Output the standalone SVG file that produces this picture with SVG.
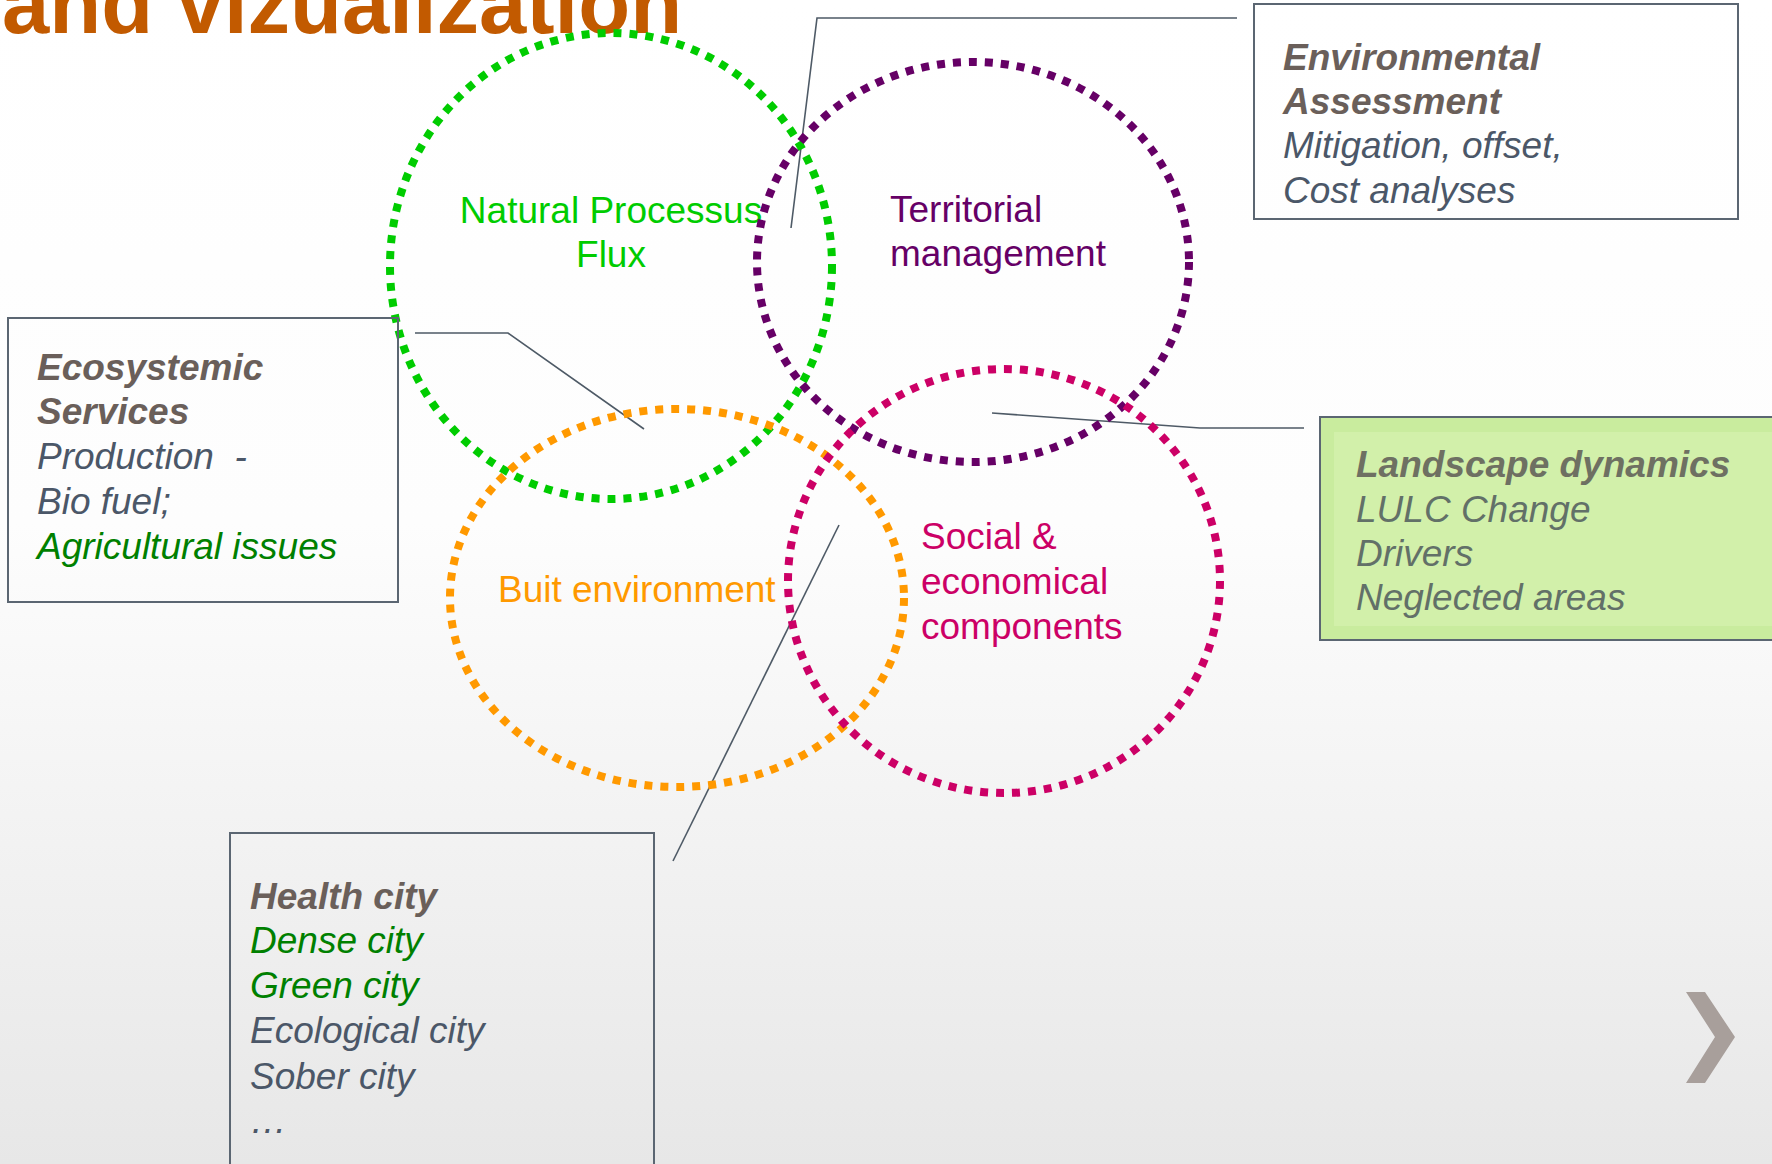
<svg xmlns="http://www.w3.org/2000/svg" width="1772" height="1164" viewBox="0 0 1772 1164">
<defs>
<linearGradient id="bg" x1="0" y1="0" x2="0" y2="1">
<stop offset="0" stop-color="#FFFFFF"/>
<stop offset="0.45" stop-color="#FDFDFD"/>
<stop offset="1" stop-color="#E7E7E7"/>
</linearGradient>
<style>
.ring{fill:none;stroke-width:8;stroke-dasharray:8 8}
.box{fill:none;stroke:#5B6672;stroke-width:2}
.conn{fill:none;stroke:#4E5A66;stroke-width:1.6}
text{font-family:"Liberation Sans",Arial,sans-serif;font-size:37px}
.title{font-size:85px;font-weight:bold;fill:#C25A00}
.h{font-weight:bold;font-style:italic;fill:#6A5F5A}
.it{font-style:italic;fill:#4B5768}
.gr{font-style:italic;fill:#008000}
</style>
</defs>
<rect x="0" y="0" width="1772" height="1164" fill="url(#bg)"/>
<text id="title" class="title" x="2" y="33">and vizualization</text>

<g id="connectors">
<polyline class="conn" points="1237,18 817,18 791,228"/>
<polyline class="conn" points="415,333 508,333 644,429"/>
<polyline class="conn" points="992,413 1200,428 1304,428"/>
<line class="conn" x1="839" y1="525" x2="673" y2="861"/>
</g>

<g id="natural">
<ellipse class="ring" cx="611" cy="266" rx="221" ry="233" stroke="#00CC00"/>
<text x="611" y="223" text-anchor="middle" fill="#00CC00">Natural Processus</text>
<text x="611" y="267" text-anchor="middle" fill="#00CC00">Flux</text>
</g>
<g id="territorial">
<ellipse class="ring" cx="973" cy="262" rx="216" ry="200" stroke="#660066"/>
<text x="890" y="222" fill="#660066">Territorial</text>
<text x="890" y="266" fill="#660066">management</text>
</g>
<g id="built">
<ellipse class="ring" cx="677" cy="598" rx="227" ry="189" stroke="#FF9900"/>
<text x="498" y="602" fill="#FF9900">Buit environment</text>
</g>
<g id="social">
<ellipse class="ring" cx="1004" cy="581" rx="216" ry="212" stroke="#CC0066"/>
<text x="921" y="549" fill="#CC0066">Social &amp;</text>
<text x="921" y="594" fill="#CC0066">economical</text>
<text x="921" y="639" fill="#CC0066">components</text>
</g>

<g id="env-assessment">
<rect class="box" x="1254" y="4" width="484" height="215"/>
<text class="h" x="1283" y="70">Environmental</text>
<text class="h" x="1283" y="114">Assessment</text>
<text class="it" x="1283" y="158">Mitigation, offset,</text>
<text class="it" x="1283" y="203">Cost analyses</text>
</g>

<g id="ecosystemic">
<rect class="box" x="8" y="318" width="390" height="284"/>
<text class="h" x="37" y="380">Ecosystemic</text>
<text class="h" x="37" y="424">Services</text>
<text class="it" x="37" y="469" xml:space="preserve">Production  -</text>
<text class="it" x="37" y="514">Bio fuel;</text>
<text class="gr" x="37" y="559">Agricultural issues</text>
</g>

<g id="landscape">
<rect x="1320" y="417" width="460" height="223" fill="#C9EC9E" stroke="#5B6672" stroke-width="2"/>
<rect x="1334" y="432" width="440" height="194" fill="#D2F0AA"/>
<text x="1356" y="477" font-weight="bold" font-style="italic" fill="#6E7062">Landscape dynamics</text>
<text x="1356" y="522" font-style="italic" fill="#627068">LULC Change</text>
<text x="1356" y="566" font-style="italic" fill="#627068">Drivers</text>
<text x="1356" y="610" font-style="italic" fill="#627068">Neglected areas</text>
</g>

<g id="health">
<rect class="box" x="230" y="833" width="424" height="340"/>
<text class="h" x="250" y="909">Health city</text>
<text class="gr" x="250" y="953">Dense city</text>
<text class="gr" x="250" y="998">Green city</text>
<text class="it" x="250" y="1043">Ecological city</text>
<text class="it" x="250" y="1089">Sober city</text>
<text class="it" x="250" y="1133">…</text>
</g>

<g id="next">
<polygon points="1686,992 1705,992 1735,1037 1705,1083 1686,1083 1715,1037" fill="#A89F9B"/>
</g>
</svg>
